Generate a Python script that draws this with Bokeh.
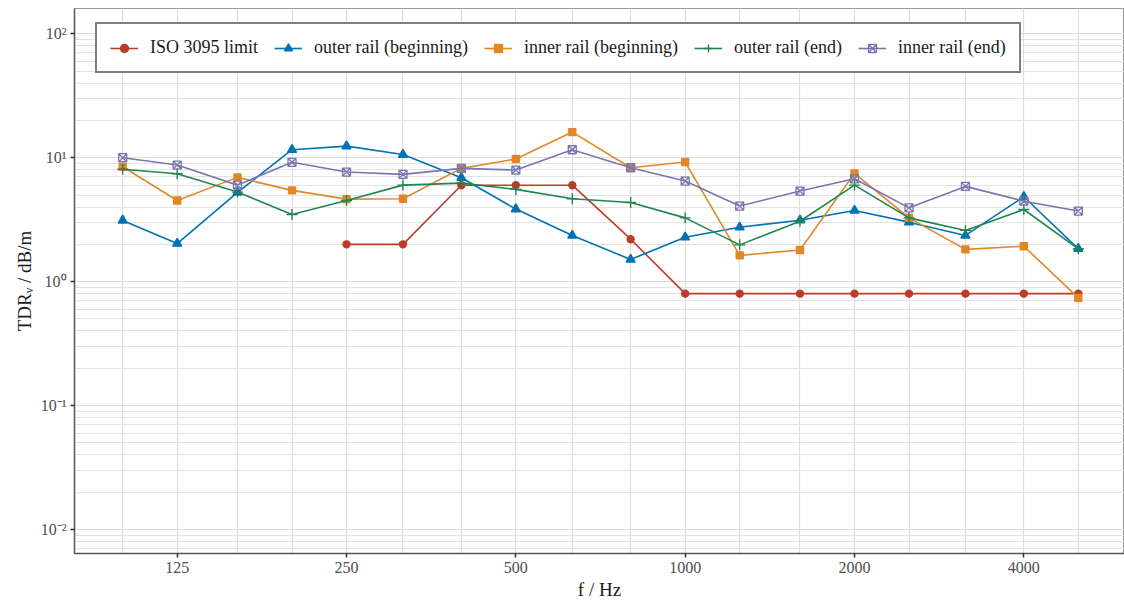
from bokeh.plotting import figure
from bokeh.models import FixedTicker, CustomJSTickFormatter, Legend, LegendItem, ColumnDataSource
from bokeh.embed import file_html
from bokeh.resources import INLINE

# ---- data (third-octave band centre frequencies, Hz) ----
freqs = [100, 125, 160, 200, 250, 315, 400, 500, 630, 800, 1000, 1250, 1600, 2000, 2500, 3150, 4000, 5000]

iso_freqs = [250, 315, 400, 500, 630, 800, 1000, 1250, 1600, 2000, 2500, 3150, 4000, 5000]
iso_limit = [2.0, 2.0, 6.0, 6.0, 6.0, 2.2, 0.8, 0.8, 0.8, 0.8, 0.8, 0.8, 0.8, 0.8]

outer_beginning = [3.12, 2.03, 5.25, 11.6, 12.4, 10.6, 6.9, 3.85, 2.36, 1.51, 2.28, 2.75, 3.13, 3.75, 3.02, 2.36, 4.84, 1.84]
inner_beginning = [8.45, 4.52, 6.94, 5.45, 4.63, 4.66, 8.2, 9.77, 16.1, 8.3, 9.23, 1.63, 1.80, 7.48, 3.27, 1.82, 1.93, 0.74]
outer_end = [8.06, 7.43, 5.28, 3.48, 4.52, 6.01, 6.24, 5.55, 4.66, 4.35, 3.27, 1.98, 3.07, 6.01, 3.27, 2.59, 3.82, 1.84]
inner_end = [10.0, 8.73, 6.01, 9.18, 7.66, 7.34, 8.2, 7.95, 11.6, 8.3, 6.48, 4.07, 5.38, 6.76, 3.94, 5.87, 4.46, 3.71]

x_tick_values = [125, 250, 500, 1000, 2000, 4000]
y_tick_values = [0.01, 0.1, 1, 10, 100]

series_labels = ["ISO 3095 limit", "outer rail (beginning)", "inner rail (beginning)",
                 "outer rail (end)", "inner rail (end)"]
colors = ["#BC3C29", "#0072B5", "#E18727", "#20854E", "#7876B1"]

FONT = "Liberation Serif"

p = figure(width=1124, height=604, x_axis_type="log", y_axis_type="log",
           x_range=(82.1, 6040), y_range=(0.0064, 160),
           output_backend="svg", toolbar_location=None,
           min_border_left=74, min_border_right=0, min_border_top=8, min_border_bottom=51,
           background_fill_color="white", border_fill_color="white")

p.outline_line_color = "#9a9a9a"
p.outline_line_width = 1

# axes
p.xaxis.ticker = FixedTicker(ticks=x_tick_values, minor_ticks=[])
p.yaxis.ticker = FixedTicker(ticks=y_tick_values, minor_ticks=[])
p.yaxis.formatter = CustomJSTickFormatter(code="""
const e = Math.round(Math.log10(tick));
const sup = {"-":"\u207b","0":"\u2070","1":"\u00b9","2":"\u00b2","3":"\u00b3","4":"\u2074",
             "5":"\u2075","6":"\u2076","7":"\u2077","8":"\u2078","9":"\u2079"};
return "10" + String(e).split("").map(c => sup[c]).join("");
""")
p.xaxis.formatter = CustomJSTickFormatter(code="return String(Math.round(tick));")

for ax in (p.xaxis[0], p.yaxis[0]):
    ax.axis_line_color = "#555555"
    ax.axis_line_width = 1.5
    ax.major_tick_line_color = "#333333"
    ax.major_tick_line_width = 1.5
    ax.major_tick_out = 4
    ax.major_tick_in = 0
    ax.minor_tick_out = 0
    ax.minor_tick_in = 0
    ax.major_label_text_font = FONT
    ax.major_label_text_font_size = "16px"
    ax.major_label_text_color = "#4D4D4D"
    ax.major_label_standoff = 4
    ax.axis_label_text_font = FONT
    ax.axis_label_text_font_size = "19px"
    ax.axis_label_text_font_style = "normal"
    ax.axis_label_text_color = "#1a1a1a"
    ax.axis_label_standoff = 3

p.xaxis.axis_label = "f / Hz"
p.yaxis.axis_label = "TDR\u1d65 / dB/m"

# grids
p.xgrid.ticker = FixedTicker(ticks=freqs)
p.xgrid.grid_line_color = "#dedede"
p.xgrid.grid_line_width = 1.2

minor_y = []
for e in range(-3, 3):
    for k in range(2, 10):
        minor_y.append(k * 10.0 ** e)
p.ygrid.ticker = FixedTicker(ticks=y_tick_values, minor_ticks=minor_y)
p.ygrid.grid_line_color = "#dedede"
p.ygrid.grid_line_width = 1.2
p.ygrid.minor_grid_line_color = "#e3e3e3"
p.ygrid.minor_grid_line_width = 1.0

# series
items = []
series = [
    (iso_freqs, iso_limit, "circle", 7, True),
    (freqs, outer_beginning, "triangle", 9, True),
    (freqs, inner_beginning, "square", 7, True),
    (freqs, outer_end, "cross", 11, True),
    (freqs, inner_end, "square_x", 8, False),
]
for (xs, ys, marker, size, filled), label, col in zip(series, series_labels, colors):
    src = ColumnDataSource(dict(x=xs, y=ys))
    lr = p.line("x", "y", source=src, line_color=col, line_width=1.6)
    if filled:
        sr = p.scatter("x", "y", source=src, marker=marker, size=size,
                       fill_color=col, line_color=col, line_width=1.4)
    else:
        sr = p.scatter("x", "y", source=src, marker=marker, size=size,
                       fill_color=None, line_color=col, line_width=1.3)
    items.append(LegendItem(label=label, renderers=[lr, sr]))

legend = Legend(items=items, orientation="horizontal", location=(21, 480),
                label_text_font=FONT, label_text_font_size="18px", label_text_color="#1a1a1a",
                glyph_width=28, glyph_height=20, label_standoff=12, spacing=16,
                padding=13, border_line_color="black", border_line_width=2,
                background_fill_color="white", background_fill_alpha=1.0,
                label_height=20)
p.add_layout(legend, "center")

open("out.html", "w").write(file_html(p, INLINE))
